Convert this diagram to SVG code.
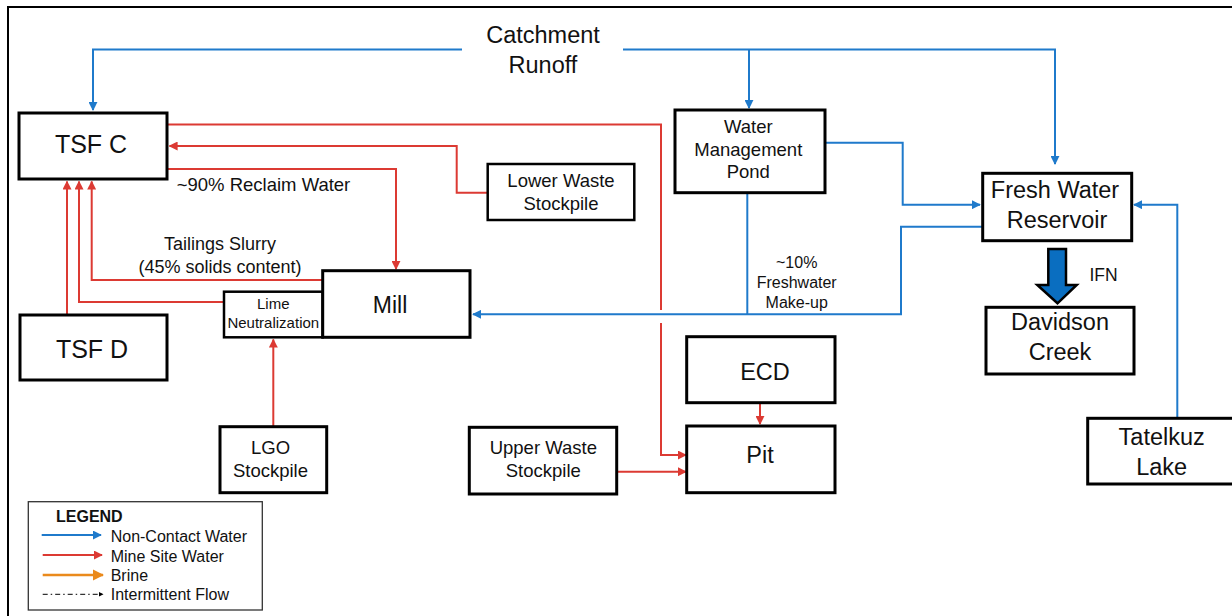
<svg xmlns="http://www.w3.org/2000/svg" width="1232" height="616" viewBox="0 0 1232 616">
<style>
text{font-family:"Liberation Sans",Arial,sans-serif;fill:#111;text-anchor:middle}
.box{fill:#fff;stroke:#000;stroke-width:3}
.bl{fill:none;stroke:#1f7acb;stroke-width:2}
.rd{fill:none;stroke:#dc3a33;stroke-width:2}
.t23{font-size:23.5px}
.t18{font-size:18.5px}
</style>
<defs>
<marker id="ab" viewBox="0 0 10 10" refX="9" refY="5" markerWidth="4.5" markerHeight="4.5" orient="auto" markerUnits="strokeWidth"><path d="M0,0L10,5L0,10z" fill="#1f7acb"/></marker>
<marker id="ar" viewBox="0 0 10 10" refX="9" refY="5" markerWidth="4.5" markerHeight="4.5" orient="auto" markerUnits="strokeWidth"><path d="M0,0L10,5L0,10z" fill="#dc3a33"/></marker>
<marker id="ao" viewBox="0 0 10 10" refX="9" refY="5" markerWidth="4.5" markerHeight="4.5" orient="auto" markerUnits="strokeWidth"><path d="M0,0L10,5L0,10z" fill="#ea8a1c"/></marker>
<marker id="ak" viewBox="0 0 10 10" refX="9" refY="5" markerWidth="5" markerHeight="5" orient="auto" markerUnits="strokeWidth"><path d="M0,0L10,5L0,10z" fill="#000"/></marker>
</defs>
<rect x="0" y="0" width="1232" height="616" fill="#fff"/>
<path d="M8,630V7H1240" fill="none" stroke="#000" stroke-width="2"/>

<g id="connectors">
<path class="bl" d="M462,49.5H93V110" marker-end="url(#ab)"/>
<path class="bl" d="M623,49.5H1055V164" marker-end="url(#ab)"/>
<path class="bl" d="M749,49.5V108" marker-end="url(#ab)"/>
<path class="bl" d="M825,142.7H902.7V204.7H980" marker-end="url(#ab)"/>
<path class="bl" d="M747.3,192.7V314.3"/>
<path class="bl" d="M982.7,226.7H901V314.3H473" marker-end="url(#ab)"/>
<path class="bl" d="M1177.3,418V204.7H1134" marker-end="url(#ab)"/>
<path class="rd" d="M167,124.5H661V310"/>
<path class="rd" d="M661,323V455H686" marker-end="url(#ar)"/>
<path class="rd" d="M488,192.7H456.7V146H169.5" marker-end="url(#ar)"/>
<path class="rd" d="M167,169H396V269" marker-end="url(#ar)"/>
<path class="rd" d="M322.7,280H91.7V181.5" marker-end="url(#ar)"/>
<path class="rd" d="M223,302H79V181.5" marker-end="url(#ar)"/>
<path class="rd" d="M67,315V181.5" marker-end="url(#ar)"/>
<path class="rd" d="M273.3,426.7V339.5" marker-end="url(#ar)"/>
<path class="rd" d="M760,402.7V424" marker-end="url(#ar)"/>
<path class="rd" d="M617,471.7H686" marker-end="url(#ar)"/>
<path d="M1048.3,249H1066V285H1076.7L1057.5,303.3L1037.3,285H1048.3Z" fill="#0a6ec0" stroke="#000" stroke-width="2.5" stroke-linejoin="miter"/>
</g>

<g id="labels">
<text class="t23" x="543" y="43">Catchment</text>
<text class="t23" x="543" y="73">Runoff</text>
<text font-size="18.5" x="263.5" y="190.7">~90% Reclaim Water</text>
<text font-size="18" x="220" y="250">Tailings Slurry</text>
<text font-size="18" x="220" y="273">(45% solids content)</text>
<text font-size="16" x="796.7" y="268.3">~10%</text>
<text font-size="16" x="796.7" y="288.3">Freshwater</text>
<text font-size="16" x="796.7" y="308.3">Make-up</text>
<text font-size="17.5" x="1103.5" y="280.7">IFN</text>
</g>

<g id="tsfc"><rect class="box" x="19" y="113" width="148" height="66"/><text font-size="25" x="91" y="153">TSF C</text></g>
<g id="tsfd"><rect class="box" x="20" y="315" width="147" height="65"/><text font-size="25" x="92" y="358">TSF D</text></g>
<g id="lime"><rect class="box" x="224" y="291.7" width="98.7" height="45.6" style="stroke-width:2.5"/><text font-size="15" x="273.3" y="309.3">Lime</text><text font-size="15" x="273.3" y="328">Neutralization</text></g>
<g id="mill"><rect class="box" x="322.7" y="270.7" width="147.3" height="66.6"/><text font-size="23" x="390" y="313">Mill</text></g>
<g id="lgo"><rect class="box" x="220" y="426.7" width="106.7" height="66"/><text class="t18" x="270.5" y="454">LGO</text><text class="t18" x="270.5" y="477">Stockpile</text></g>
<g id="lower"><rect class="box" x="487.7" y="164" width="146.6" height="56" style="stroke-width:2.5"/><text class="t18" x="561" y="187.3">Lower Waste</text><text class="t18" x="561" y="210">Stockpile</text></g>
<g id="wmp"><rect class="box" x="675" y="110" width="150" height="82.7"/><text class="t18" x="748.3" y="133.3">Water</text><text class="t18" x="748.3" y="156">Management</text><text class="t18" x="748.3" y="178.3">Pond</text></g>
<g id="fwr"><rect class="box" x="982.7" y="173.3" width="149" height="67.4"/><text class="t23" x="1055" y="198.3">Fresh Water</text><text class="t23" x="1057" y="228.3">Reservoir</text></g>
<g id="davidson"><rect class="box" x="986" y="307.3" width="148" height="66.7"/><text class="t23" x="1060" y="330">Davidson</text><text class="t23" x="1060" y="360">Creek</text></g>
<g id="tatelkuz"><rect class="box" x="1087.7" y="418.3" width="160" height="65.7"/><text class="t23" x="1161.7" y="445">Tatelkuz</text><text class="t23" x="1161.7" y="475">Lake</text></g>
<g id="ecd"><rect class="box" x="686.7" y="336.7" width="148.3" height="66"/><text class="t23" x="765" y="380">ECD</text></g>
<g id="pit"><rect class="box" x="686.7" y="426" width="148.3" height="66.7"/><text class="t23" x="760" y="463.3">Pit</text></g>
<g id="upper"><rect class="box" x="469.3" y="427.3" width="147.4" height="66.7"/><text class="t18" x="543.3" y="454">Upper Waste</text><text class="t18" x="543.3" y="476.7">Stockpile</text></g>

<g id="legend">
<rect x="28.3" y="501.7" width="234" height="108.3" fill="#fff" stroke="#333" stroke-width="1.3"/>
<text font-size="16" font-weight="bold" x="56" y="522" style="text-anchor:start">LEGEND</text>
<path d="M41.7,535H101" stroke="#1f7acb" stroke-width="2" marker-end="url(#ab)"/>
<path d="M42.7,555H102" stroke="#dc3a33" stroke-width="2" marker-end="url(#ar)"/>
<path d="M42.7,575H103" stroke="#ea8a1c" stroke-width="2.5" marker-end="url(#ao)"/>
<path d="M42.7,594.3H103" stroke="#000" stroke-width="1" stroke-dasharray="5,3,1.5,3" marker-end="url(#ak)"/>
<text font-size="16" x="110.7" y="542.3" style="text-anchor:start">Non-Contact Water</text>
<text font-size="16" x="110.7" y="561.5" style="text-anchor:start">Mine Site Water</text>
<text font-size="16" x="110.7" y="580.5" style="text-anchor:start">Brine</text>
<text font-size="16" x="110.7" y="600" style="text-anchor:start">Intermittent Flow</text>
</g>
</svg>
